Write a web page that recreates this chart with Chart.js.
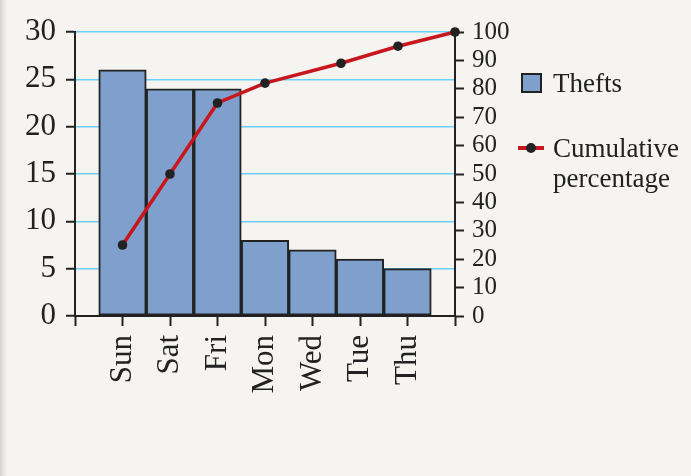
<!DOCTYPE html>
<html>
<head>
<meta charset="utf-8">
<script src="https://cdn.jsdelivr.net/npm/chart.js@4"></script>
<style>
  html, body { margin:0; padding:0; background:#f5f4f0; }
  body { width:691px; height:476px; position:relative; overflow:hidden; font-family:'Liberation Serif','Times New Roman',serif; color:#222; }
  #edge { position:absolute; left:0; top:0; width:7px; height:476px; background:linear-gradient(to right,#d6d5d2,#f5f4f0); }
  #c { position:absolute; left:0; top:0; }
  .leg { position:absolute; left:518px; font-size:27px; line-height:30px; }
  .leg .row { position:relative; padding-left:35px; width:135px; }
  .sw-bar { position:absolute; left:3px; top:5px; width:17px; height:16px; border:2px solid #222; background:#7fa0cc; }
  .sw-line { position:absolute; left:0; top:13px; width:26px; height:4px; background:#c8161e; }
  .sw-dot { position:absolute; left:8px; top:-3px; width:10px; height:10px; border-radius:50%; background:#222; }
</style>
</head>
<body>
<div id="edge"></div>
<canvas id="c" width="691" height="476"></canvas>
<div id="legend"></div>
<script>
// ---- data ----
const categories = ['Sun', 'Sat', 'Fri', 'Mon', 'Wed', 'Tue', 'Thu'];
const categoryX = [1, 2, 3, 4, 5, 6, 7];
const thefts = [26, 24, 24, 8, 7, 6, 5];
const cumulativeX = [1, 2, 3, 4, 5.6, 6.8, 8];
const cumulativePct = [25, 50, 75, 82, 89, 95, 100];
const leftTicks = [0, 5, 10, 15, 20, 25, 30];
const rightTicks = [0, 10, 20, 30, 40, 50, 60, 70, 80, 90, 100];
const seriesLabels = ['Thefts', 'Cumulative percentage'];

const DARK = '#222222';
const BLUE_FILL = '#7fa0cc';
const RED = '#c8161e';
const GRID = '#6dcff6';
const FONT = "'Liberation Serif', 'Times New Roman', serif";

Chart.defaults.font.family = FONT;
Chart.defaults.color = DARK;

const barData = categoryX.map((x, i) => ({ x: x, y: thefts[i] }));
const lineData = cumulativeX.map((x, i) => ({ x: x, y: cumulativePct[i] }));

new Chart(document.getElementById('c'), {
  type: 'bar',
  data: {
    datasets: [
      {
        type: 'line',
        label: seriesLabels[1],
        data: lineData,
        yAxisID: 'y2',
        borderColor: RED,
        borderWidth: 3.5,
        pointRadius: 4.8,
        pointBackgroundColor: DARK,
        pointBorderWidth: 0,
        tension: 0,
        clip: false,
        order: 0
      },
      {
        type: 'bar',
        label: seriesLabels[0],
        data: barData,
        yAxisID: 'y',
        backgroundColor: BLUE_FILL,
        borderColor: DARK,
        borderWidth: 2,
        borderSkipped: false,
        barPercentage: 1,
        categoryPercentage: 1,
        order: 1
      }
    ]
  },
  options: {
    responsive: false,
    animation: false,
    layout: { padding: { left: 0, top: 32, right: 156, bottom: 60 } },
    plugins: { legend: { display: false }, tooltip: { enabled: false } },
    scales: {
      x: {
        type: 'linear',
        min: 0,
        max: 8,
        offset: false,
        afterBuildTicks: (s) => { s.ticks = [0,1,2,3,4,5,6,7,8].map(v => ({ value: v })); },
        afterFit: (s) => { s.height = 100; },
        ticks: {
          autoSkip: false,
          minRotation: 90,
          maxRotation: 90,
          padding: 9,
          color: DARK,
          font: { family: FONT, size: 31 },
          callback: (v) => { const i = categoryX.indexOf(v); return i >= 0 ? categories[i] : ''; }
        },
        grid: { offset: false, drawOnChartArea: false, drawTicks: true, tickLength: 10, tickColor: DARK, tickWidth: 2, color: DARK },
        border: { display: true, color: DARK, width: 2 }
      },
      y: {
        position: 'left',
        min: 0,
        max: 30,
        afterBuildTicks: (s) => { s.ticks = leftTicks.map(v => ({ value: v })); },
        afterFit: (s) => { s.width = 75; },
        ticks: { autoSkip: false, color: DARK, padding: 10, font: { family: FONT, size: 31 } },
        grid: { color: GRID, lineWidth: 1.5, tickColor: DARK, tickLength: 9, tickWidth: 2 },
        border: { display: true, color: DARK, width: 2 }
      },
      y2: {
        position: 'right',
        min: 0,
        max: 100,
        afterBuildTicks: (s) => { s.ticks = rightTicks.map(v => ({ value: v })); },
        afterFit: (s) => { s.width = 80; },
        ticks: { autoSkip: false, color: DARK, padding: 8, font: { family: FONT, size: 25 } },
        grid: { drawOnChartArea: false, tickColor: DARK, tickLength: 9, tickWidth: 2 },
        border: { display: true, color: DARK, width: 2 }
      }
    }
  }
});

// ---- HTML legend built from the series labels ----
const legend = document.getElementById('legend');
function addLegend(top, label, kind) {
  const wrap = document.createElement('div');
  wrap.className = 'leg';
  wrap.style.top = top + 'px';
  const row = document.createElement('div');
  row.className = 'row';
  if (kind === 'bar') {
    const sw = document.createElement('div'); sw.className = 'sw-bar'; row.appendChild(sw);
  } else {
    const ln = document.createElement('div'); ln.className = 'sw-line';
    const dot = document.createElement('div'); dot.className = 'sw-dot';
    ln.appendChild(dot); row.appendChild(ln);
  }
  const txt = document.createElement('span'); txt.textContent = label; row.appendChild(txt);
  wrap.appendChild(row);
  legend.appendChild(wrap);
}
addLegend(68, seriesLabels[0], 'bar');
addLegend(133, seriesLabels[1], 'line');
</script>
</body>
</html>
